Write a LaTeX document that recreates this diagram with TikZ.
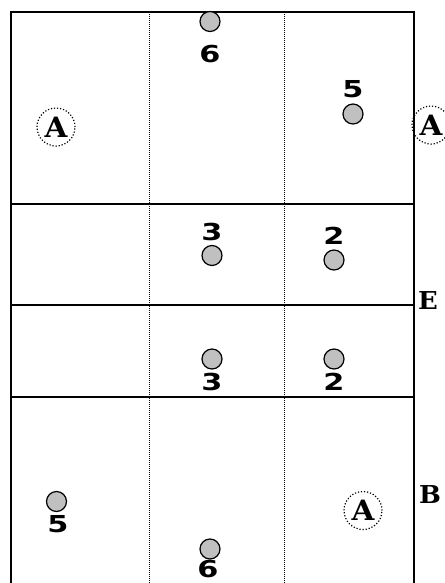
\documentclass[tikz,border=0pt]{standalone}
\usepackage{fontspec}
\usepackage{graphicx}
\newfontfamily\numfont{DejaVu Sans}
\newfontfamily\letfont{DejaVu Serif}
\newcommand\stretchx[2]{\scalebox{#1}[1]{#2}}
\begin{document}
\begin{tikzpicture}[x=0.75pt,y=-0.75pt,
  court/.style={line width=1.5pt},
  zone/.style={line width=0.75pt,dash pattern=on 0.75pt off 0.75pt},
  player/.style={circle,draw,line width=0.9pt,fill={rgb,255:red,192;green,192;blue,192},minimum size=15pt,inner sep=0pt},
  num/.style={font=\numfont\bfseries\fontsize{17.5}{17.5}\selectfont,inner sep=0pt},
  ahead/.style={circle,draw,dash pattern=on 0.9pt off 1.4pt,line width=0.9pt,minimum size=28.5pt,inner sep=0pt},
  aletter/.style={font=\letfont\bfseries\fontsize{21}{21}\selectfont,inner sep=0pt},
  side/.style={font=\letfont\bfseries\fontsize{18.5}{18.5}\selectfont,inner sep=0pt}]
\useasboundingbox (0,0) rectangle (445,583);
% court
\coordinate (tl) at (11,12);
\coordinate (tr) at (414,12);
\coordinate (bl) at (11,583);
\coordinate (br) at (414,583);
\draw[court] (bl) -- (tl) -- (tr) -- (br);
\coordinate (h1l) at (11,204); \coordinate (h1r) at (414,204);
\coordinate (h2l) at (11,304.5); \coordinate (h2r) at (414,304.5);
\coordinate (h3l) at (11,397); \coordinate (h3r) at (414,397);
\draw[court] (h1l) -- (h1r);
\draw[court] (h2l) -- (h2r);
\draw[court] (h3l) -- (h3r);
\coordinate (d1t) at (149.5,12); \coordinate (d1b) at (149.5,583);
\coordinate (d2t) at (284,12); \coordinate (d2b) at (284,583);
\draw[zone] (d1t) -- (d1b);
\draw[zone] (d2t) -- (d2b);
% top half
\node[player] (p6t) at (210,21.5) {};
\node[num] (l6t) at (210,54) {\stretchx{1.3}{6}};
\node[player] (p5t) at (353,114) {};
\node[num] (l5t) at (353,89) {\stretchx{1.3}{5}};
\node[ahead] (a1) at (56,127) {};
\node[aletter] (t1) at (a1) {\stretchx{1.05}{A}};
\node[ahead] (a2) at (431,125) {};
\node[aletter] (t2) at (a2) {\stretchx{1.05}{A}};
% middle
\node[player] (p3u) at (212,255.5) {};
\node[num] (l3u) at (212,232) {\stretchx{1.3}{3}};
\node[player] (p2u) at (334,260) {};
\node[num] (l2u) at (334,236) {\stretchx{1.3}{2}};
\node[player] (p3d) at (212,359) {};
\node[num] (l3d) at (212,382) {\stretchx{1.3}{3}};
\node[player] (p2d) at (334,359) {};
\node[num] (l2d) at (334,382) {\stretchx{1.3}{2}};
\node[side] (e) at (428,300.5) {\stretchx{1.05}{E}};
% bottom
\node[player] (p5b) at (56.5,501.5) {};
\node[num] (l5b) at (58,524) {\stretchx{1.3}{5}};
\node[player] (p6b) at (210,549) {};
\node[num] (l6b) at (208,569.5) {\stretchx{1.3}{6}};
\node[ahead] (a3) at (363,510.5) {};
\node[aletter] (t3) at (a3) {\stretchx{1.05}{A}};
\node[side] (b) at (430,495) {\stretchx{1.05}{B}};
\end{tikzpicture}
\end{document}
